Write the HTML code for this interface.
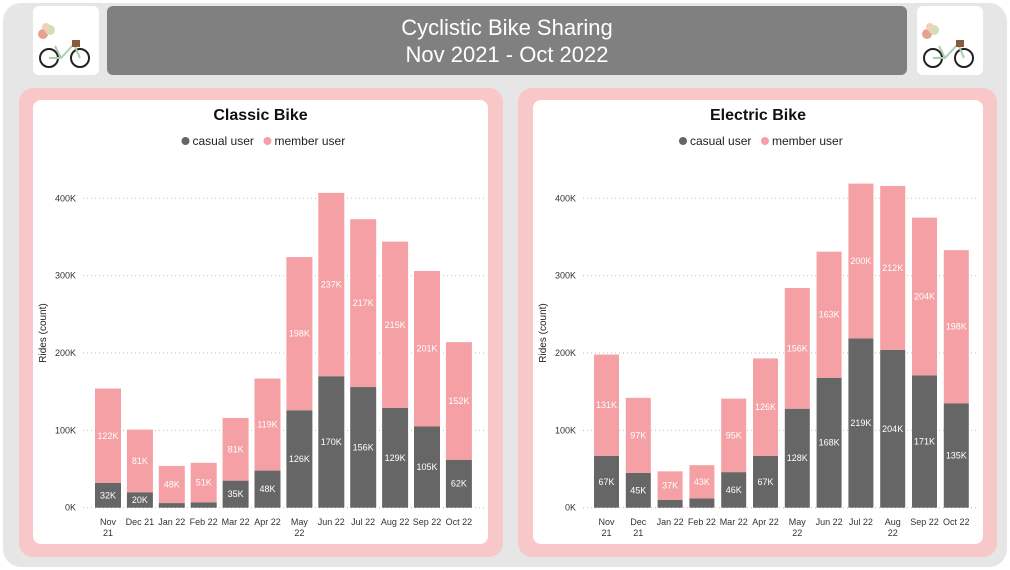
<!DOCTYPE html>
<html><head><meta charset="utf-8"><style>
body{margin:0;width:1010px;height:570px;background:#fff;font-family:"Liberation Sans",sans-serif;overflow:hidden;position:relative}
.abs{position:absolute}
</style></head><body>
<div class="abs" style="left:3px;top:3px;width:1004px;height:564px;background:#e6e6e6;border-radius:18px"></div>
<div class="abs" style="left:33px;top:6px;width:66px;height:69px;background:#fff;border-radius:6px">
<svg width="66" height="69"><circle cx="10" cy="28" r="5" fill="#e8a095"/><circle cx="17" cy="24" r="5" fill="#cfe0b8"/><circle cx="13" cy="21" r="4" fill="#f0d0b8"/><circle cx="16" cy="52" r="9" fill="none" stroke="#222" stroke-width="2"/><circle cx="47" cy="52" r="9" fill="none" stroke="#222" stroke-width="2"/><path d="M16 52 L28 52 L41 38 L47 52 M22 40 L28 52" stroke="#a8d0b0" stroke-width="2" fill="none"/><rect x="39" y="34" width="8" height="7" fill="#8b5a3c"/></svg></div>
<div class="abs" style="left:917px;top:6px;width:66px;height:69px;background:#fff;border-radius:6px">
<svg width="66" height="69"><circle cx="10" cy="28" r="5" fill="#e8a095"/><circle cx="17" cy="24" r="5" fill="#cfe0b8"/><circle cx="13" cy="21" r="4" fill="#f0d0b8"/><circle cx="16" cy="52" r="9" fill="none" stroke="#222" stroke-width="2"/><circle cx="47" cy="52" r="9" fill="none" stroke="#222" stroke-width="2"/><path d="M16 52 L28 52 L41 38 L47 52 M22 40 L28 52" stroke="#a8d0b0" stroke-width="2" fill="none"/><rect x="39" y="34" width="8" height="7" fill="#8b5a3c"/></svg></div>
<div class="abs" style="left:107px;top:6px;width:800px;height:69px;background:#808080;border-radius:6px;color:#fff;font-size:22px;text-align:center;line-height:27px;padding-top:8px;box-sizing:border-box">Cyclistic Bike Sharing<br>Nov 2021 - Oct 2022</div>
<div class="abs" style="left:19px;top:88px;width:484px;height:469px;background:#f8c8c8;border-radius:14px"></div>
<div class="abs" style="left:518px;top:88px;width:479px;height:469px;background:#f8c8c8;border-radius:14px"></div>
<svg id="c1" class="abs" style="left:33px;top:100px" width="455" height="444"></svg>
<svg id="c2" class="abs" style="left:533px;top:100px" width="450" height="444"></svg>
<script>
const months=["Nov 21","Dec 21","Jan 22","Feb 22","Mar 22","Apr 22","May 22","Jun 22","Jul 22","Aug 22","Sep 22","Oct 22"];
const monthLines=[["Nov","21"],["Dec 21"],["Jan 22"],["Feb 22"],["Mar 22"],["Apr 22"],["May","22"],["Jun 22"],["Jul 22"],["Aug 22"],["Sep 22"],["Oct 22"]];
const monthLines2=[["Nov","21"],["Dec","21"],["Jan 22"],["Feb 22"],["Mar 22"],["Apr 22"],["May","22"],["Jun 22"],["Jul 22"],["Aug","22"],["Sep 22"],["Oct 22"]];
const classicCasual=[32,20,6,7,35,48,126,170,156,129,105,62];
const classicMember=[122,81,48,51,81,119,198,237,217,215,201,152];
const electricCasual=[67,45,10,12,46,67,128,168,219,204,171,135];
const electricMember=[131,97,37,43,95,126,156,163,200,212,204,198];
const yTicks=[0,100,200,300,400];
const NS="http://www.w3.org/2000/svg";
function mk(svg,tag,at,txt){const e=document.createElementNS(NS,tag);for(const k in at)e.setAttribute(k,at[k]);if(txt!==undefined)e.textContent=txt;svg.appendChild(e);return e;}
function draw(id,title,casual,member,labels,x0,pitch,bw,gx1,gx2){
 const s=document.getElementById(id);const W=+s.getAttribute('width');
 mk(s,'rect',{x:0,y:0,width:W,height:444,rx:8,fill:'#fff'});
 let t=mk(s,'text',{x:W/2,y:20,'text-anchor':'middle','font-size':16,'font-weight':'bold',fill:'#111'},title);
 
 const cx=W/2-75;
 let g=mk(s,'g',{});
 mk(g,'circle',{cx:cx,cy:41,r:4,fill:'#666'});mk(g,'text',{x:cx+7,y:45,'font-size':12,fill:'#222'},'casual user');
 g=mk(s,'g',{});
 mk(g,'circle',{cx:cx+82,cy:41,r:4,fill:'#f4a0a5'});mk(g,'text',{x:cx+89,y:45,'font-size':12,fill:'#222'},'member user');
 const y=v=>407.7-v*0.7735;
 yTicks.forEach(v=>{const l=mk(s,'line',{x1:gx1,x2:gx2,y1:y(v),y2:y(v),stroke:'#bbb','stroke-dasharray':'1 3'});
  const tx=mk(s,'text',{x:gx1-7,y:y(v)+3,'text-anchor':'end','font-size':9,fill:'#333'},v+'K');});
 const yt=mk(s,'text',{transform:'translate(13,233) rotate(-90)','text-anchor':'middle','font-size':10,fill:'#222'},'Rides (count)');
 
 casual.forEach((c,i)=>{const m=member[i];const x=x0+i*pitch;
  const r1=mk(s,'rect',{x:x,y:y(c),width:bw,height:y(0)-y(c),fill:'#666'});
  const r2=mk(s,'rect',{x:x,y:y(c+m),width:bw,height:y(c)-y(c+m),fill:'#f4a0a5'});
  if(c>=15){const l=mk(s,'text',{x:x+bw/2,y:(y(0)+y(c))/2+3,'text-anchor':'middle','font-size':9,fill:'#fff'},c+'K');}
  const l2=mk(s,'text',{x:x+bw/2,y:(y(c)+y(c+m))/2+3,'text-anchor':'middle','font-size':9,fill:'#fff'},m+'K');
  labels[i].forEach((ln,j)=>{const xl=mk(s,'text',{x:x+bw/2,y:425+j*11,'text-anchor':'middle','font-size':9,fill:'#333'},ln);});
 });
}
draw('c1','Classic Bike',classicCasual,classicMember,monthLines,62,31.9,26,50,452);
draw('c2','Electric Bike',electricCasual,electricMember,monthLines2,61,31.8,25,50,446);
</script>
</body></html>
